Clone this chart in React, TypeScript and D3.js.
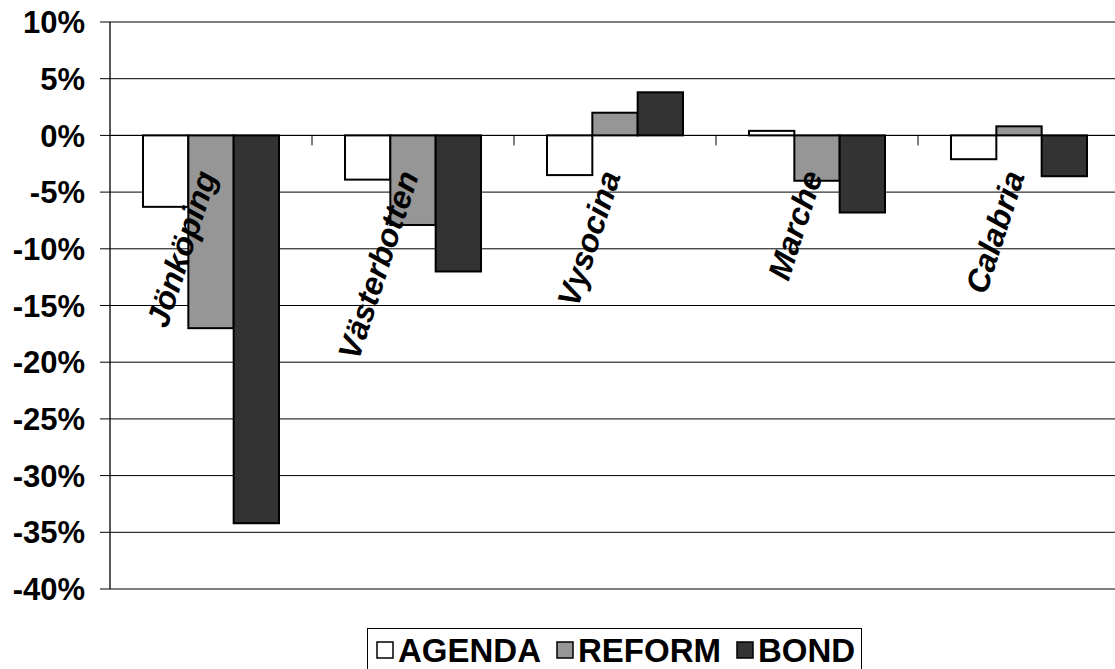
import React from "react";
import * as d3 from "d3";

const categories = ["Jönköping", "Västerbotten", "Vysocina", "Marche", "Calabria"];
const seriesNames = ["AGENDA", "REFORM", "BOND"];
const agenda = [-6.3, -3.9, -3.5, 0.4, -2.1];
const reform = [-17.0, -7.9, 2.0, -4.0, 0.8];
const bond = [-34.2, -12.0, 3.8, -6.8, -3.6];
const yTicks = [10, 5, 0, -5, -10, -15, -20, -25, -30, -35, -40];
const colors = ["#ffffff", "#969696", "#333333"];

const W = 1115;
const H = 669;
const FONT = "Arial, 'Liberation Sans', Helvetica, sans-serif";

export default function App() {
  const series = [agenda, reform, bond];
  const y = d3.scaleLinear().domain([-40, 10]).range([589, 22]);
  const x0 = d3.scaleBand<string>().domain(categories).range([110, 1120]).padding(0);
  const bw = x0.bandwidth();
  const x1 = d3
    .scaleBand<string>()
    .domain(seriesNames)
    .range([bw * 0.1634, bw * (1 - 0.1634)])
    .padding(0);

  const legendItems = [
    { name: seriesNames[0], sq: 377, tx: 398 },
    { name: seriesNames[1], sq: 557, tx: 578 },
    { name: seriesNames[2], sq: 737, tx: 758 },
  ];

  return (
    <svg
      width={W}
      height={H}
      style={{ position: "absolute", left: 0, top: 0, background: "#fff" }}
      fontFamily={FONT}
    >
      <rect x={0} y={0} width={W} height={H} fill="#fff" />
      {/* gridlines */}
      {yTicks.map((t) => (
        <line key={"g" + t} x1={110} x2={1120} y1={y(t)} y2={y(t)} stroke="#000" strokeWidth={1} />
      ))}
      {/* y axis */}
      <line x1={110} x2={110} y1={y(10)} y2={y(-40)} stroke="#000" strokeWidth={1.3} />
      {yTicks.map((t) => (
        <g key={"t" + t}>
          <line x1={100} x2={110} y1={y(t)} y2={y(t)} stroke="#000" strokeWidth={1} />
          <text
            x={85}
            y={y(t)}
            dy="0.36em"
            textAnchor="end"
            fontSize={31}
            fontWeight="bold"
            fill="#000"
          >
            {t + "%"}
          </text>
        </g>
      ))}
      {/* bars */}
      {categories.map((c, ci) => (
        <g key={c} transform={`translate(${x0(c)},0)`}>
          {seriesNames.map((s, si) => {
            const v = series[si][ci];
            const top = y(Math.max(0, v));
            const bot = y(Math.min(0, v));
            return (
              <rect
                key={s}
                x={x1(s)}
                y={top}
                width={x1.bandwidth()}
                height={bot - top}
                fill={colors[si]}
                stroke="#000"
                strokeWidth={2}
              />
            );
          })}
        </g>
      ))}
      {/* x axis */}
      <line x1={110} x2={1120} y1={y(0)} y2={y(0)} stroke="#000" strokeWidth={1} />
      {categories.map((c) => (
        <line
          key={"xt" + c}
          x1={(x0(c) as number) + bw}
          x2={(x0(c) as number) + bw}
          y1={y(0)}
          y2={y(0) + 10}
          stroke="#000"
          strokeWidth={1}
        />
      ))}
      {/* category labels */}
      {categories.map((c) => {
        const cx = (x0(c) as number) + bw / 2;
        return (
          <text
            key={"l" + c}
            transform={`translate(${cx + 6},${y(0) + 40}) rotate(-72)`}
            textAnchor="end"
            fontSize={32}
            fontWeight="bold"
            fontStyle="italic"
            fill="#000"
          >
            {c}
          </text>
        );
      })}
      {/* legend */}
      <rect x={367.5} y={628.5} width={494} height={60} fill="#fff" stroke="#000" strokeWidth={1} />
      {legendItems.map((it, i) => (
        <g key={it.name}>
          <rect
            x={it.sq}
            y={642}
            width={16}
            height={16}
            fill={colors[i]}
            stroke="#000"
            strokeWidth={1.5}
          />
          <text x={it.tx} y={662} fontSize={33} fontWeight="bold" fill="#000">
            {it.name}
          </text>
        </g>
      ))}
    </svg>
  );
}
